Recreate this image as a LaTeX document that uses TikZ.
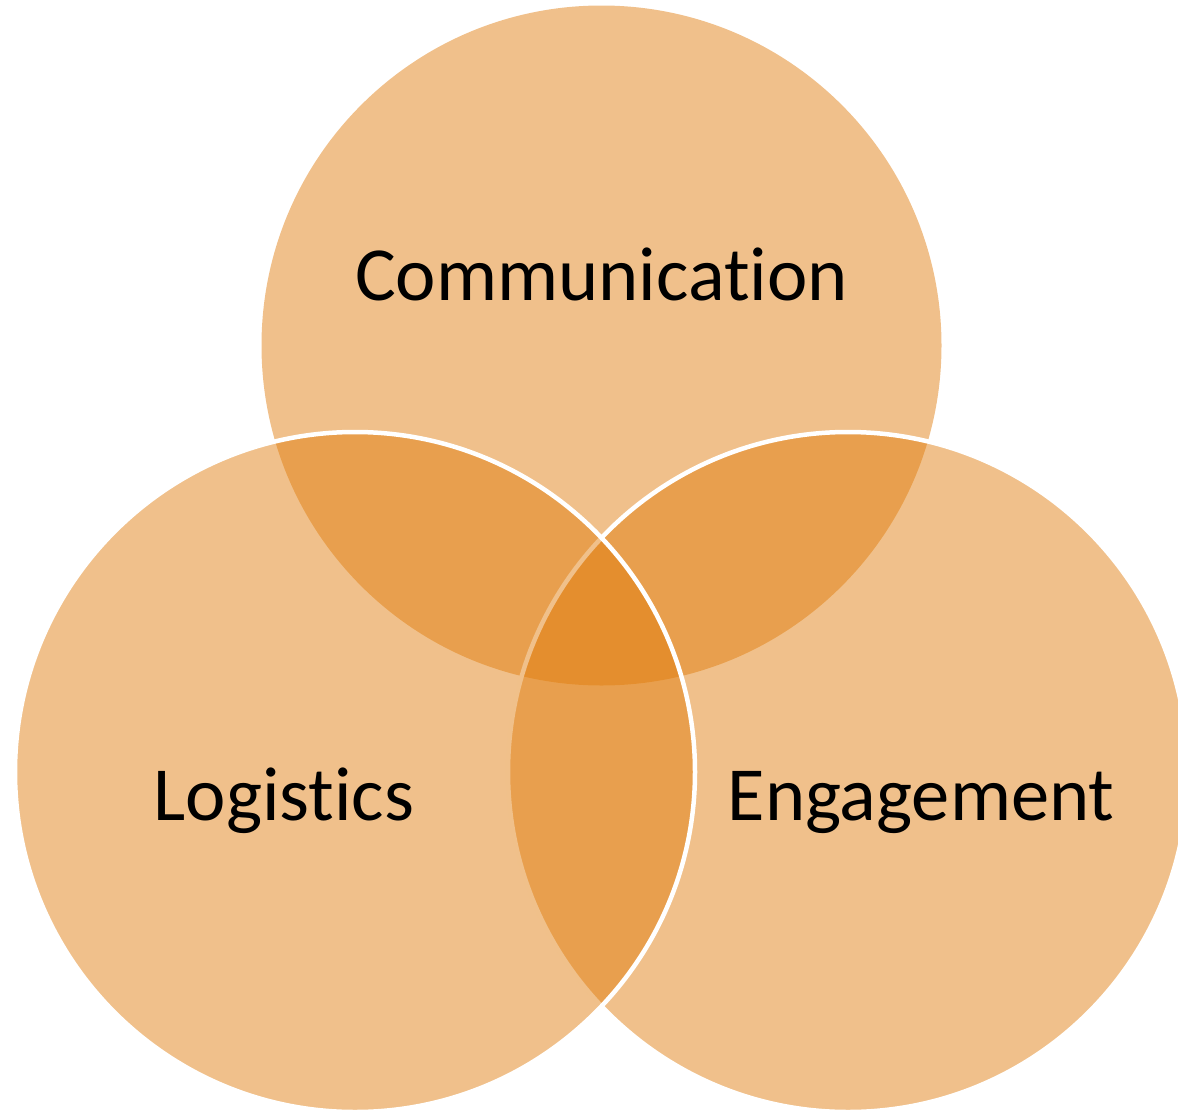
\documentclass[tikz,border=0pt]{standalone}
\usepackage{fontspec}
\setmainfont[Ligatures={NoCommon}]{Carlito}
\definecolor{venn}{RGB}{224,124,12}
\tikzset{
  venncircle/.style={circle, minimum size=680pt, inner sep=0pt, fill=venn, fill opacity=0.48},
  ring/.style={draw=white, line width=4.5pt},
  label/.style={anchor=base, inner sep=0pt, font=\fontsize{76.5}{90}\selectfont, text=black}
}
\begin{document}
\begin{tikzpicture}[x=1pt,y=-1pt]
\useasboundingbox (0,0) rectangle (1178,1114);
\clip (0,0) rectangle (1178,1114);
\node[venncircle] (top) at (601.5,345.5) {};
\node[venncircle, ring] (right) at (848,772) {};
\node[venncircle, ring] (left) at (355,772) {};
\node[label] (comm) at (601.5,300) {Communication};
\node[label] (logi) at (284,820) {Logistics};
\node[label] (enga) at (921,820) {Engagement};
\end{tikzpicture}
\end{document}
